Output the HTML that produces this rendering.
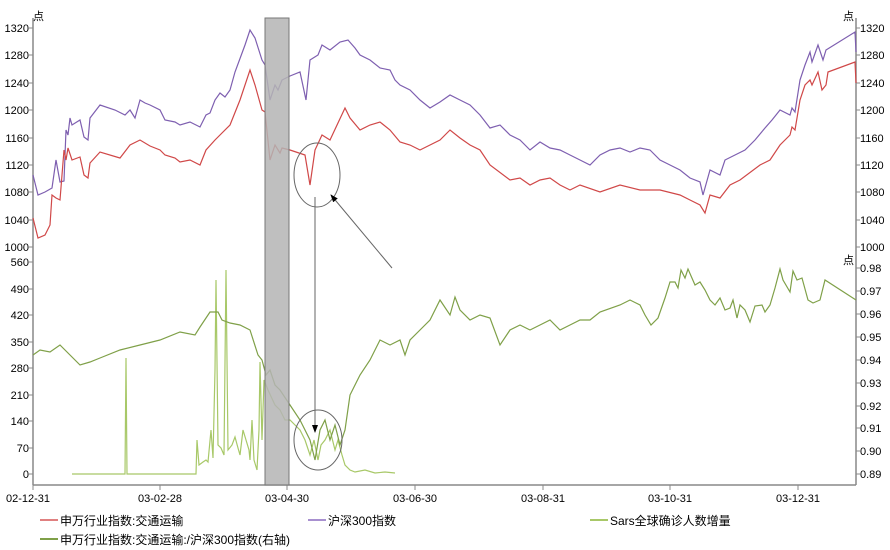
<!DOCTYPE html>
<html><head><meta charset="utf-8"><style>
body{margin:0;background:#fff;}
svg{display:block;font-family:"Liberation Sans","Noto Sans CJK SC",sans-serif;}
.cjk{font-family:"Noto Sans CJK SC","WenQuanYi Zen Hei",sans-serif;}
</style></head><body>
<svg width="890" height="550" viewBox="0 0 890 550">
<defs><marker id="ah" markerWidth="8" markerHeight="8" refX="7" refY="4" orient="auto"><path d="M0,1 L8,4 L0,7 z" fill="#000"/></marker></defs>
<g stroke="#888" stroke-width="1.5" fill="none">
<line x1="33" y1="18" x2="33" y2="485"/>
<line x1="856" y1="18" x2="856" y2="485"/>
<line x1="33" y1="485" x2="856" y2="485"/>
</g>
<g font-size="11" fill="#000" class="cjk">
<text x="33" y="20">点</text>
<text x="843" y="20">点</text>
<text x="843" y="264">点</text>
</g>
<g font-size="11" fill="#000" text-anchor="end">
<text x="29" y="32">1320</text><text x="29" y="59">1280</text><text x="29" y="87">1240</text><text x="29" y="114">1200</text><text x="29" y="142">1160</text><text x="29" y="169">1120</text><text x="29" y="196">1080</text><text x="29" y="224">1040</text><text x="29" y="251">1000</text>
<text x="29" y="266">560</text><text x="29" y="293">490</text><text x="29" y="319">420</text><text x="29" y="346">350</text><text x="29" y="372">280</text><text x="29" y="399">210</text><text x="29" y="425">140</text><text x="29" y="452">70</text><text x="29" y="478">0</text>
</g>
<g font-size="11" fill="#000">
<text x="860" y="32">1320</text><text x="860" y="59">1280</text><text x="860" y="87">1240</text><text x="860" y="114">1200</text><text x="860" y="142">1160</text><text x="860" y="169">1120</text><text x="860" y="196">1080</text><text x="860" y="224">1040</text><text x="860" y="251">1000</text>
<text x="860" y="272">0.98</text><text x="860" y="295">0.97</text><text x="860" y="318">0.96</text><text x="860" y="341">0.95</text><text x="860" y="364">0.94</text><text x="860" y="387">0.93</text><text x="860" y="410">0.92</text><text x="860" y="432">0.91</text><text x="860" y="455">0.90</text><text x="860" y="478">0.89</text>
</g>
<g stroke="#888" stroke-width="1">
<path d="M33,28h-4M33,55h-4M33,83h-4M33,110h-4M33,138h-4M33,165h-4M33,192h-4M33,220h-4M33,247h-4M33,262h-4M33,289h-4M33,315h-4M33,342h-4M33,368h-4M33,395h-4M33,421h-4M33,448h-4M33,474h-4"/>
<path d="M856,28h4M856,55h4M856,83h4M856,110h4M856,138h4M856,165h4M856,192h4M856,220h4M856,247h4M856,268h4M856,291h4M856,314h4M856,337h4M856,360h4M856,383h4M856,406h4M856,428h4M856,451h4M856,474h4"/>
<path d="M33,485v5M160,485v5M287,485v5M415,485v5M543,485v5M670,485v5M798,485v5"/>
</g>
<g font-size="11" fill="#000" text-anchor="middle">
<text x="28" y="502">02-12-31</text><text x="160" y="502">03-02-28</text><text x="287" y="502">03-04-30</text><text x="415" y="502">03-06-30</text><text x="543" y="502">03-08-31</text><text x="670" y="502">03-10-31</text><text x="798" y="502">03-12-31</text>
</g>
<polyline fill="none" stroke="#7e5fb0" stroke-width="1.2" points="33,175 38,195 45,192 52,188 56,160 60,182 64,181 66,130 68,135 70,118 72,125 80,120 84,137 88,140 90,118 100,105 115,110 125,115 130,110 135,118 140,100 145,103 150,105 160,110 165,120 175,122 180,125 190,122 200,127 206,115 210,113 215,100 220,93 225,97 230,90 235,72 245,45 250,30 255,38 262,60 265,65 270,100 275,85 278,90 282,80 290,76 300,72 306,100 310,60 318,55 322,45 330,50 340,42 348,40 355,48 360,55 370,60 380,68 390,70 395,80 400,85 410,90 420,100 430,108 440,102 450,95 460,100 470,105 480,115 490,128 500,125 510,135 520,140 530,150 540,142 550,148 560,150 570,155 580,160 590,165 600,155 610,150 620,148 630,152 640,148 650,150 660,160 670,165 680,170 690,178 700,182 703,195 710,170 720,175 725,160 735,155 745,150 755,140 765,128 772,120 780,110 790,115 792,108 795,112 800,80 805,65 810,52 812,62 818,45 823,60 826,50 855,32 856,52"/>
<polyline fill="none" stroke="#d04848" stroke-width="1.2" points="33,218 38,238 45,235 50,225 52,195 56,198 60,200 64,150 66,160 68,148 72,160 80,157 84,175 88,178 90,163 100,152 120,158 130,145 140,140 150,146 160,150 165,155 175,158 180,162 190,160 200,165 206,150 215,140 220,135 230,125 240,100 250,70 255,85 262,110 265,112 270,160 275,145 280,153 282,148 290,150 305,155 310,185 315,150 322,135 330,140 345,108 350,118 360,130 370,125 380,122 390,130 400,142 410,145 420,150 440,140 450,130 460,138 470,145 480,150 490,165 510,180 520,178 530,185 540,180 550,178 560,185 570,190 580,185 600,192 620,185 640,190 660,190 680,195 690,200 700,205 705,213 710,195 720,198 730,185 740,180 760,165 770,160 780,145 790,135 792,127 795,130 800,100 805,85 810,80 812,85 818,72 822,90 826,85 828,72 855,62 856,83"/>
<polyline fill="none" stroke="#a8c868" stroke-width="1.2" points="72,474 125,474 126,358 127,474 196,474 197,440 199,465 203,462 206,460 208,462 211,430 213,458 215,370 216,280 218,445 221,448 224,455 226,270 228,450 232,445 235,437 238,448 240,455 243,430 246,440 249,450 250,460 252,420 254,460 257,470 259,430 260,362 262,440 264,380 268,390 275,405 280,410 285,420 290,420 295,425 300,430 305,440 310,455 314,440 318,460 321,445 325,440 330,430 335,450 338,440 342,455 345,465 350,470 355,472 365,470 375,473 385,472 395,473"/>
<polyline fill="none" stroke="#7fa048" stroke-width="1.2" points="33,355 40,350 50,352 60,345 70,355 80,365 90,362 100,358 120,350 140,345 160,340 180,332 195,335 200,327 210,312 218,312 222,320 230,323 240,325 250,330 258,355 262,360 266,375 270,370 275,385 280,390 290,405 300,420 310,440 315,460 320,430 325,420 330,440 335,425 340,445 345,430 350,395 360,375 370,360 380,340 390,345 400,340 405,355 410,340 420,330 430,320 440,300 450,315 455,297 460,310 470,320 480,315 490,318 500,345 510,330 520,325 530,330 540,325 550,320 560,330 570,325 580,320 590,320 600,312 620,305 630,300 640,305 645,315 651,325 658,318 665,298 670,282 675,282 678,288 681,270 685,278 688,269 695,285 700,282 705,290 710,300 715,305 720,298 725,310 730,308 733,300 737,318 740,305 745,310 750,322 755,306 762,305 765,312 770,305 775,288 780,269 783,280 790,292 793,271 797,280 802,278 808,300 813,303 820,300 825,280 856,300"/>
<rect x="265" y="18" width="24" height="467" fill="#b4b4b4" fill-opacity="0.85" stroke="#777" stroke-width="1"/>
<g fill="none" stroke="#666" stroke-width="1">
<ellipse cx="317" cy="175" rx="23" ry="32"/>
<ellipse cx="318" cy="440" rx="24" ry="30"/>
</g>
<line x1="392" y1="268" x2="331" y2="195" stroke="#666" stroke-width="1" marker-end="url(#ah)"/>
<line x1="315" y1="197" x2="315" y2="432" stroke="#666" stroke-width="1" marker-end="url(#ah)"/>
<g font-size="12" fill="#000">
<line x1="40" y1="520" x2="58" y2="520" stroke="#e08080" stroke-width="2"/><text x="60" y="525">申万行业指数:交通运输</text>
<line x1="308" y1="520" x2="326" y2="520" stroke="#a890d0" stroke-width="2"/><text x="328" y="525">沪深300指数</text>
<line x1="590" y1="520" x2="608" y2="520" stroke="#a8c868" stroke-width="2"/><text x="610" y="525">Sars全球确诊人数增量</text>
<line x1="40" y1="539" x2="58" y2="539" stroke="#7fa048" stroke-width="2"/><text x="60" y="544">申万行业指数:交通运输:/沪深300指数(右轴)</text>
</g>
</svg>
</body></html>
